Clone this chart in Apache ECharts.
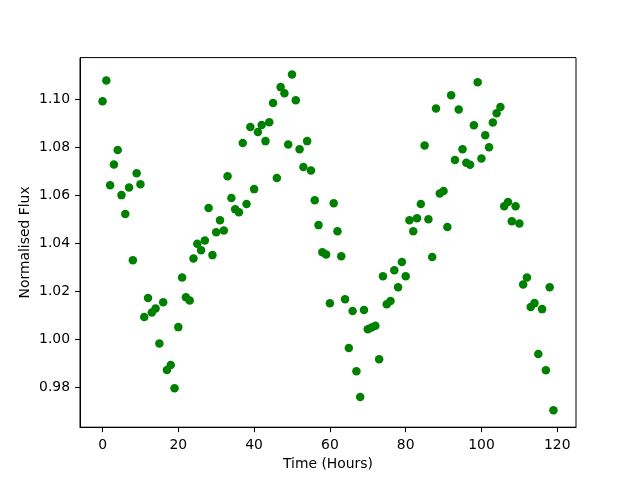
<!DOCTYPE html>
<html>
<head>
<meta charset="utf-8">
<script src="https://cdn.jsdelivr.net/npm/echarts@6/dist/echarts.min.js"></script>
<style>
  html, body { margin: 0; padding: 0; background: #fff; }
  #chart { width: 640px; height: 480px; }
</style>
</head>
<body>
<div id="chart"></div>
<script>
// one reading per hour, 0..119
const hours = Array.from({ length: 120 }, (_, i) => i);
const flux = [
    1.0992, 1.1079, 1.0642, 1.0729, 1.0789, 1.0601, 1.0522, 1.0633, 1.0330, 1.0692,
    1.0646, 1.0093, 1.0172, 1.0112, 1.0129, 0.9983, 1.0155, 0.9872, 0.9893, 0.9796,
    1.0051, 1.0258, 1.0175, 1.0162, 1.0337, 1.0398, 1.0371, 1.0412, 1.0547, 1.0351,
    1.0446, 1.0496, 1.0454, 1.0680, 1.0589, 1.0542, 1.0530, 1.0818, 1.0564, 1.0885,
    1.0626, 1.0864, 1.0893, 1.0826, 1.0905, 1.0985, 1.0672, 1.1051, 1.1025, 1.0812,
    1.1104, 1.0996, 1.0792, 1.0718, 1.0826, 1.0704, 1.0580, 1.0476, 1.0363, 1.0354,
    1.0150, 1.0567, 1.0450, 1.0346, 1.0167, 0.9964, 1.0118, 0.9867, 0.9760, 1.0122,
    1.0042, 1.0049, 1.0057, 0.9917, 1.0263, 1.0146, 1.0160, 1.0288, 1.0217, 1.0322,
    1.0263, 1.0496, 1.0450, 1.0505, 1.0564, 1.0808, 1.0500, 1.0343, 1.0962, 1.0608,
    1.0618, 1.0468, 1.1017, 1.0747, 1.0958, 1.0792, 1.0736, 1.0728, 1.0892, 1.1071,
    1.0754, 1.0850, 1.0800, 1.0904, 1.0942, 1.0968, 1.0555, 1.0572, 1.0492, 1.0555,
    1.0483, 1.0229, 1.0258, 1.0135, 1.0151, 0.9939, 1.0126, 0.9871, 1.0217, 0.9705
];
const xTicks = [0, 20, 40, 60, 80, 100, 120];
const yTicks = [0.98, 1.00, 1.02, 1.04, 1.06, 1.08, 1.10];

const font = 'DejaVu Sans';
const chart = echarts.init(document.getElementById('chart'));

chart.setOption({
    animation: false,
    backgroundColor: '#fff',
    textStyle: { fontFamily: font },
    grid: {
        left: 80,
        right: 64,
        top: 57.6,
        bottom: 52.8,
        show: true,
        borderColor: '#000',
        borderWidth: 1,
        containLabel: false
    },
    xAxis: {
        type: 'value',
        min: -5.95,
        max: 124.95,
        name: 'Time (Hours)',
        nameLocation: 'middle',
        nameGap: 30,
        nameMoveOverlap: false,
        nameTextStyle: { color: '#000', fontSize: 13.9, fontFamily: font },
        axisLine: { show: true, onZero: false, lineStyle: { color: '#000', width: 1 } },
        axisTick: { show: true, inside: false, length: 5, customValues: xTicks, lineStyle: { color: '#000' } },
        axisLabel: { color: '#000', fontSize: 13.9, margin: 11, customValues: xTicks, fontFamily: font },
        splitLine: { show: false }
    },
    yAxis: {
        type: 'value',
        min: 0.9634,
        max: 1.1174,
        name: 'Normalised Flux',
        nameLocation: 'middle',
        nameGap: 48,
        nameMoveOverlap: false,
        nameTextStyle: { color: '#000', fontSize: 13.9, fontFamily: font },
        axisLine: { show: true, onZero: false, lineStyle: { color: '#000', width: 1 } },
        axisTick: { show: true, inside: false, length: 5, customValues: yTicks, lineStyle: { color: '#000' } },
        axisLabel: {
            color: '#000', fontSize: 13.9, margin: 10, customValues: yTicks, fontFamily: font,
            formatter: v => v.toFixed(2)
        },
        splitLine: { show: false }
    },
    series: [{
        type: 'scatter',
        data: hours.map((h, i) => [h, flux[i]]),
        symbol: 'circle',
        symbolSize: 8.5,
        itemStyle: { color: '#008000', opacity: 1 }
    }]
});
</script>
</body>
</html>
